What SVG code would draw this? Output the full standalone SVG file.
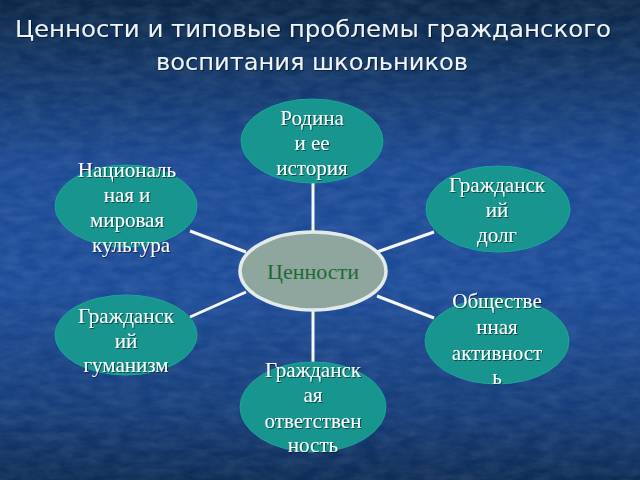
<svg xmlns="http://www.w3.org/2000/svg" width="640" height="480" viewBox="0 0 640 480">
<defs>
<linearGradient id="bg" x1="0" y1="0" x2="0" y2="1">
<stop offset="0" stop-color="#0b2646"/>
<stop offset="0.15" stop-color="#123666"/>
<stop offset="0.35" stop-color="#1c4a94"/>
<stop offset="0.6" stop-color="#1d4c98"/>
<stop offset="0.85" stop-color="#163d78"/>
<stop offset="1" stop-color="#0e2b55"/>
</linearGradient>
<filter id="tex" x="0" y="0" width="100%" height="100%">
<feTurbulence type="fractalNoise" baseFrequency="0.05 0.12" numOctaves="3" seed="4"/>
<feColorMatrix type="matrix" values="0 0 0 0 0.6  0 0 0 0 0.7  0 0 0 0 1  0 0 0 0.35 -0.08"/>
</filter>
<filter id="sh" x="-10%" y="-10%" width="120%" height="130%">
<feDropShadow dx="1" dy="1" stdDeviation="0.6" flood-color="#000" flood-opacity="0.5"/>
</filter>
</defs>
<style>
.node{fill:#17958e;stroke:#1aa59c;stroke-width:1}
.lbl{font-family:"Liberation Serif","Times New Roman",serif;font-size:21px;fill:#ffffff;text-anchor:middle}
.title{font-family:"DejaVu Sans","Liberation Sans",sans-serif;font-size:23px;fill:#eef4f8;text-anchor:middle}
.conn line{stroke:#f4f6f8;stroke-width:3}
</style>
<rect width="640" height="480" fill="url(#bg)"/>
<rect width="640" height="480" filter="url(#tex)" opacity="0.5"/>
<g id="title" filter="url(#sh)">
<text class="title" x="313" y="37" textLength="596" lengthAdjust="spacingAndGlyphs">Ценности и типовые проблемы гражданского</text>
<text class="title" x="312" y="70" textLength="312" lengthAdjust="spacingAndGlyphs">воспитания школьников</text>
</g>
<g id="connectors" class="conn">
<line x1="313" y1="183" x2="313" y2="233"/>
<line x1="313" y1="310" x2="313" y2="362"/>
<line x1="190" y1="231" x2="246" y2="252"/>
<line x1="190" y1="317" x2="246" y2="292"/>
<line x1="377" y1="252" x2="434" y2="232"/>
<line x1="377" y1="296" x2="434" y2="318"/>
</g>
<g id="center">
<ellipse cx="313" cy="271" rx="73" ry="39" fill="#8fa69e" stroke="#e2eaea" stroke-width="3.5"/>
<text x="313" y="279" font-family="Liberation Serif, Times New Roman, serif" font-size="22" fill="#1e6a34" text-anchor="middle">Ценности</text>
</g>
<g id="node-rodina">
<ellipse class="node" cx="312" cy="141" rx="71" ry="42"/>
<g filter="url(#sh)"><text class="lbl" x="312" y="125">Родина</text>
<text class="lbl" x="312" y="150">и ее</text>
<text class="lbl" x="312" y="175">история</text></g>
</g>
<g id="node-dolg">
<ellipse class="node" cx="498" cy="209" rx="72" ry="43"/>
<g filter="url(#sh)"><text class="lbl" x="497" y="192">Гражданск</text>
<text class="lbl" x="497" y="217">ий</text>
<text class="lbl" x="497" y="242">долг</text></g>
</g>
<g id="node-kultura">
<ellipse class="node" cx="126" cy="206" rx="71" ry="41"/>
<g filter="url(#sh)"><text class="lbl" x="127" y="177">Националь</text>
<text class="lbl" x="127" y="202">ная и</text>
<text class="lbl" x="127" y="227">мировая</text>
<text class="lbl" x="131" y="252">культура</text></g>
</g>
<g id="node-gumanizm">
<ellipse class="node" cx="126" cy="335" rx="71" ry="40"/>
<g filter="url(#sh)"><text class="lbl" x="126" y="323">Гражданск</text>
<text class="lbl" x="126" y="348">ий</text>
<text class="lbl" x="126" y="372">гуманизм</text></g>
</g>
<g id="node-aktivnost">
<ellipse class="node" cx="497" cy="341" rx="72" ry="43"/>
<g filter="url(#sh)"><text class="lbl" x="497" y="308">Обществе</text>
<text class="lbl" x="497" y="334">нная</text>
<text class="lbl" x="497" y="360">активност</text>
<text class="lbl" x="497" y="384">ь</text></g>
</g>
<g id="node-otvetstvennost">
<ellipse class="node" cx="313" cy="407" rx="73" ry="45"/>
<g filter="url(#sh)"><text class="lbl" x="313" y="377">Гражданск</text>
<text class="lbl" x="313" y="402">ая</text>
<text class="lbl" x="313" y="428">ответствен</text>
<text class="lbl" x="313" y="452">ность</text></g>
</g>
</svg>
